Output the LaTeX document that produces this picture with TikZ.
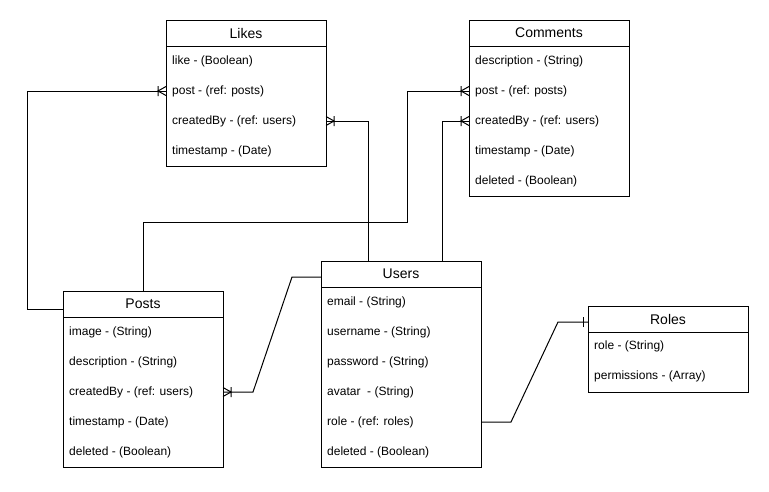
\documentclass[tikz,border=0pt]{standalone}
\usepackage{fontspec}
\setmainfont{Liberation Sans}
\usetikzlibrary{decorations.markings,calc}
\begin{document}
\begin{tikzpicture}[
  x=1pt,y=-1pt,
  hdr/.style={draw,line width=1pt,minimum width=160pt,minimum height=26pt,inner sep=0pt,outer sep=0pt,anchor=north west,font=\fontsize{14}{16}\selectfont},
  bodybox/.style={draw,line width=1pt,minimum width=160pt,inner sep=0pt,outer sep=0pt,anchor=north west},
  field/.style={anchor=west,inner sep=0pt,font=\fontsize{12}{14}\selectfont},
  rel/.style={draw,line width=1pt},
  crow/.style={postaction={decorate,decoration={markings,mark=at position 1 with {\draw[line width=1pt] (-8pt,-5pt)--(-8pt,5pt) (0pt,4.5pt)--(-8pt,0pt)--(0pt,-4.5pt);}}}},
  onebar/.style={postaction={decorate,decoration={markings,mark=at position 1 with {\draw[line width=1pt] (-5pt,-5pt)--(-5pt,5pt);}}}}
]
\useasboundingbox[fill=white] (0,0) rectangle (769,491);

% Likes
\node[hdr] (likesH) at (166,20) {Likes};
\node[bodybox,minimum height=120pt] (likes) at (166,46) {};
\node[field] (likes1) at ($(likes.north west)+(6,15)$) {like - (Boolean)};
\node[field] (likes2) at ($(likes.north west)+(6,45)$) {post - (ref: posts)};
\node[field] (likes3) at ($(likes.north west)+(6,75)$) {createdBy - (ref: users)};
\node[field] (likes4) at ($(likes.north west)+(6,105)$) {timestamp - (Date)};

% Comments
\node[hdr] (commentsH) at (469,20) {Comments};
\node[bodybox,minimum height=150pt] (comments) at (469,46) {};
\node[field] (comments1) at ($(comments.north west)+(6,15)$) {description - (String)};
\node[field] (comments2) at ($(comments.north west)+(6,45)$) {post - (ref: posts)};
\node[field] (comments3) at ($(comments.north west)+(6,75)$) {createdBy - (ref: users)};
\node[field] (comments4) at ($(comments.north west)+(6,105)$) {timestamp - (Date)};
\node[field] (comments5) at ($(comments.north west)+(6,135)$) {deleted - (Boolean)};

% Posts
\node[hdr] (postsH) at (63,291) {Posts};
\node[bodybox,minimum height=150pt] (posts) at (63,317) {};
\node[field] (posts1) at ($(posts.north west)+(6,15)$) {image - (String)};
\node[field] (posts2) at ($(posts.north west)+(6,45)$) {description - (String)};
\node[field] (posts3) at ($(posts.north west)+(6,75)$) {createdBy - (ref: users)};
\node[field] (posts4) at ($(posts.north west)+(6,105)$) {timestamp - (Date)};
\node[field] (posts5) at ($(posts.north west)+(6,135)$) {deleted - (Boolean)};

% Users
\node[hdr] (usersH) at (321,261) {Users};
\node[bodybox,minimum height=180pt] (users) at (321,287) {};
\node[field] (users1) at ($(users.north west)+(6,15)$) {email - (String)};
\node[field] (users2) at ($(users.north west)+(6,45)$) {username - (String)};
\node[field] (users3) at ($(users.north west)+(6,75)$) {password - (String)};
\node[field] (users4) at ($(users.north west)+(6,105)$) {avatar\ \ - (String)};
\node[field] (users5) at ($(users.north west)+(6,135)$) {role - (ref: roles)};
\node[field] (users6) at ($(users.north west)+(6,165)$) {deleted - (Boolean)};

% Roles
\node[hdr] (rolesH) at (588,306) {Roles};
\node[bodybox,minimum height=60pt] (roles) at (588,332) {};
\node[field] (roles1) at ($(roles.north west)+(6,14)$) {role - (String)};
\node[field] (roles2) at ($(roles.north west)+(6,44)$) {permissions - (Array)};

% Connectors
\draw[rel,crow] ([yshift=8pt]postsH.south west) -- ++(-36,0) |- (likes2 -| likes.west);
\draw[rel,crow] ([xshift=-33pt]usersH.north) |- (likes3 -| likes.east);
\coordinate (bend3) at (407,222);
\draw[rel,crow] (postsH.north) |- (bend3) |- (comments2 -| comments.west);
\draw[rel,crow] ([xshift=41pt]usersH.north) |- (comments3 -| comments.west);
\draw[rel,crow] ([yshift=-3pt]usersH.west) -- ++(-29,0) -- ($(posts3 -| posts.east)+(30,0)$) -- (posts3 -| posts.east);
\draw[rel,onebar] (users5 -| users.east) -- ++(30,0) -- ($([yshift=-3pt]rolesH.west)+(-30,0)$) -- ([yshift=-3pt]rolesH.west);
\end{tikzpicture}
\end{document}
